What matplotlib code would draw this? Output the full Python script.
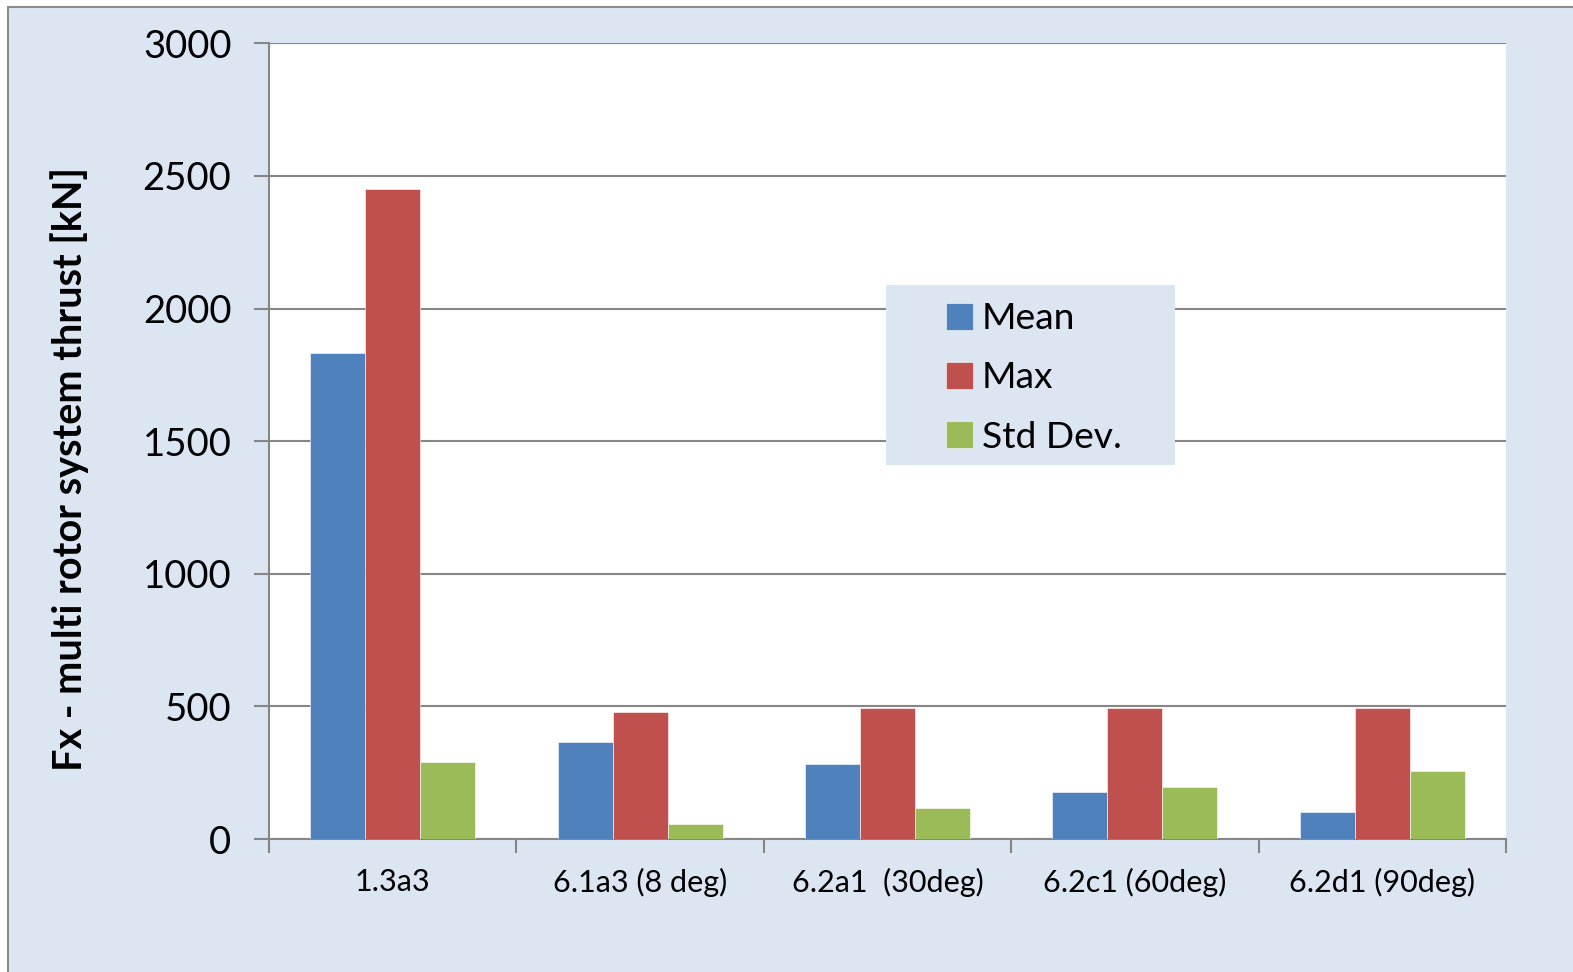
import matplotlib
matplotlib.use('Agg')
import matplotlib.pyplot as plt
from matplotlib.patches import Rectangle
import numpy as np

plt.rcParams['font.family'] = ['Lato', 'DejaVu Sans']

# data
cases = ['1.3a3', '6.1a3 (8 deg)', '6.2a1  (30deg)', '6.2c1 (60deg)', '6.2d1 (90deg)']
mean_vals = [1832, 367, 282, 179, 101]
max_vals = [2452, 480, 495, 495, 495]
std_vals = [291, 58, 117, 195, 257]
series_names = ['Mean', 'Max', 'Std Dev.']
colors = ['#4F81BD', '#C0504D', '#9BBB59']

W, H = 1573, 972
bg = '#DCE6F2'
grid_col = '#868686'

fig = plt.figure(figsize=(W / 100, H / 100), dpi=100, facecolor='white')
# chart area background with grey border (top/left visible)
fig.patches.append(Rectangle((8 / W, -0.05), 1.2, 1 - 7 / H + 0.05, transform=fig.transFigure,
                             facecolor=bg, edgecolor='#8C8C8C', linewidth=1.5, zorder=-10))

left, top, right, bottom = 269, 43.3, 1506, 839
ax = fig.add_axes([left / W, 1 - bottom / H, (right - left) / W, (bottom - top) / H])
ax.set_facecolor('white')

x = np.arange(len(cases))
bw = 1 / 4.5
for i, (vals, name, c) in enumerate(zip([mean_vals, max_vals, std_vals], series_names, colors)):
    ax.bar(x + (i - 1) * bw, vals, width=bw, color=c, edgecolor='white', linewidth=0.4,
           label=name, zorder=3)

ax.set_xlim(-0.5, len(cases) - 0.5)
ax.set_ylim(0, 3000)
ax.set_yticks(range(0, 3001, 500))
ax.yaxis.grid(True, color=grid_col, linewidth=1.5, zorder=1)
ax.set_axisbelow(True)

for s in ['top', 'right']:
    ax.spines[s].set_visible(False)
for s in ['left', 'bottom']:
    ax.spines[s].set_color(grid_col)
    ax.spines[s].set_linewidth(1.5)

ax.set_xticks(x)
ax.set_xticklabels(cases, fontsize=22)
ax.set_xticks(np.arange(-0.5, len(cases)), minor=True)
ax.tick_params(axis='x', which='major', length=0, pad=21)
ax.tick_params(axis='x', which='minor', length=10, width=1.5, color=grid_col)
ax.tick_params(axis='y', length=11, width=1.5, color=grid_col, labelsize=27.5, pad=16)

ax.set_ylabel('Fx - multi rotor system thrust [kN]', fontsize=28.5, fontweight='bold')
ax.yaxis.set_label_coords((89 - left) / (right - left), 0.465)

# legend box (figure-fraction coords)
ax.add_patch(Rectangle((886 / W, 1 - 465 / H), 289 / W, 180 / H, transform=fig.transFigure,
                       facecolor=bg, edgecolor='none', zorder=4, clip_on=False))
leg = ax.legend(loc='center', bbox_to_anchor=(1034 / W, 1 - 378 / H), bbox_transform=fig.transFigure,
                frameon=False, fontsize=26.8, handlelength=0.72, handleheight=0.72,
                handletextpad=0.25, labelspacing=0.7)
leg.set_zorder(5)

fig.savefig('out.png', dpi=100, facecolor=fig.get_facecolor())
